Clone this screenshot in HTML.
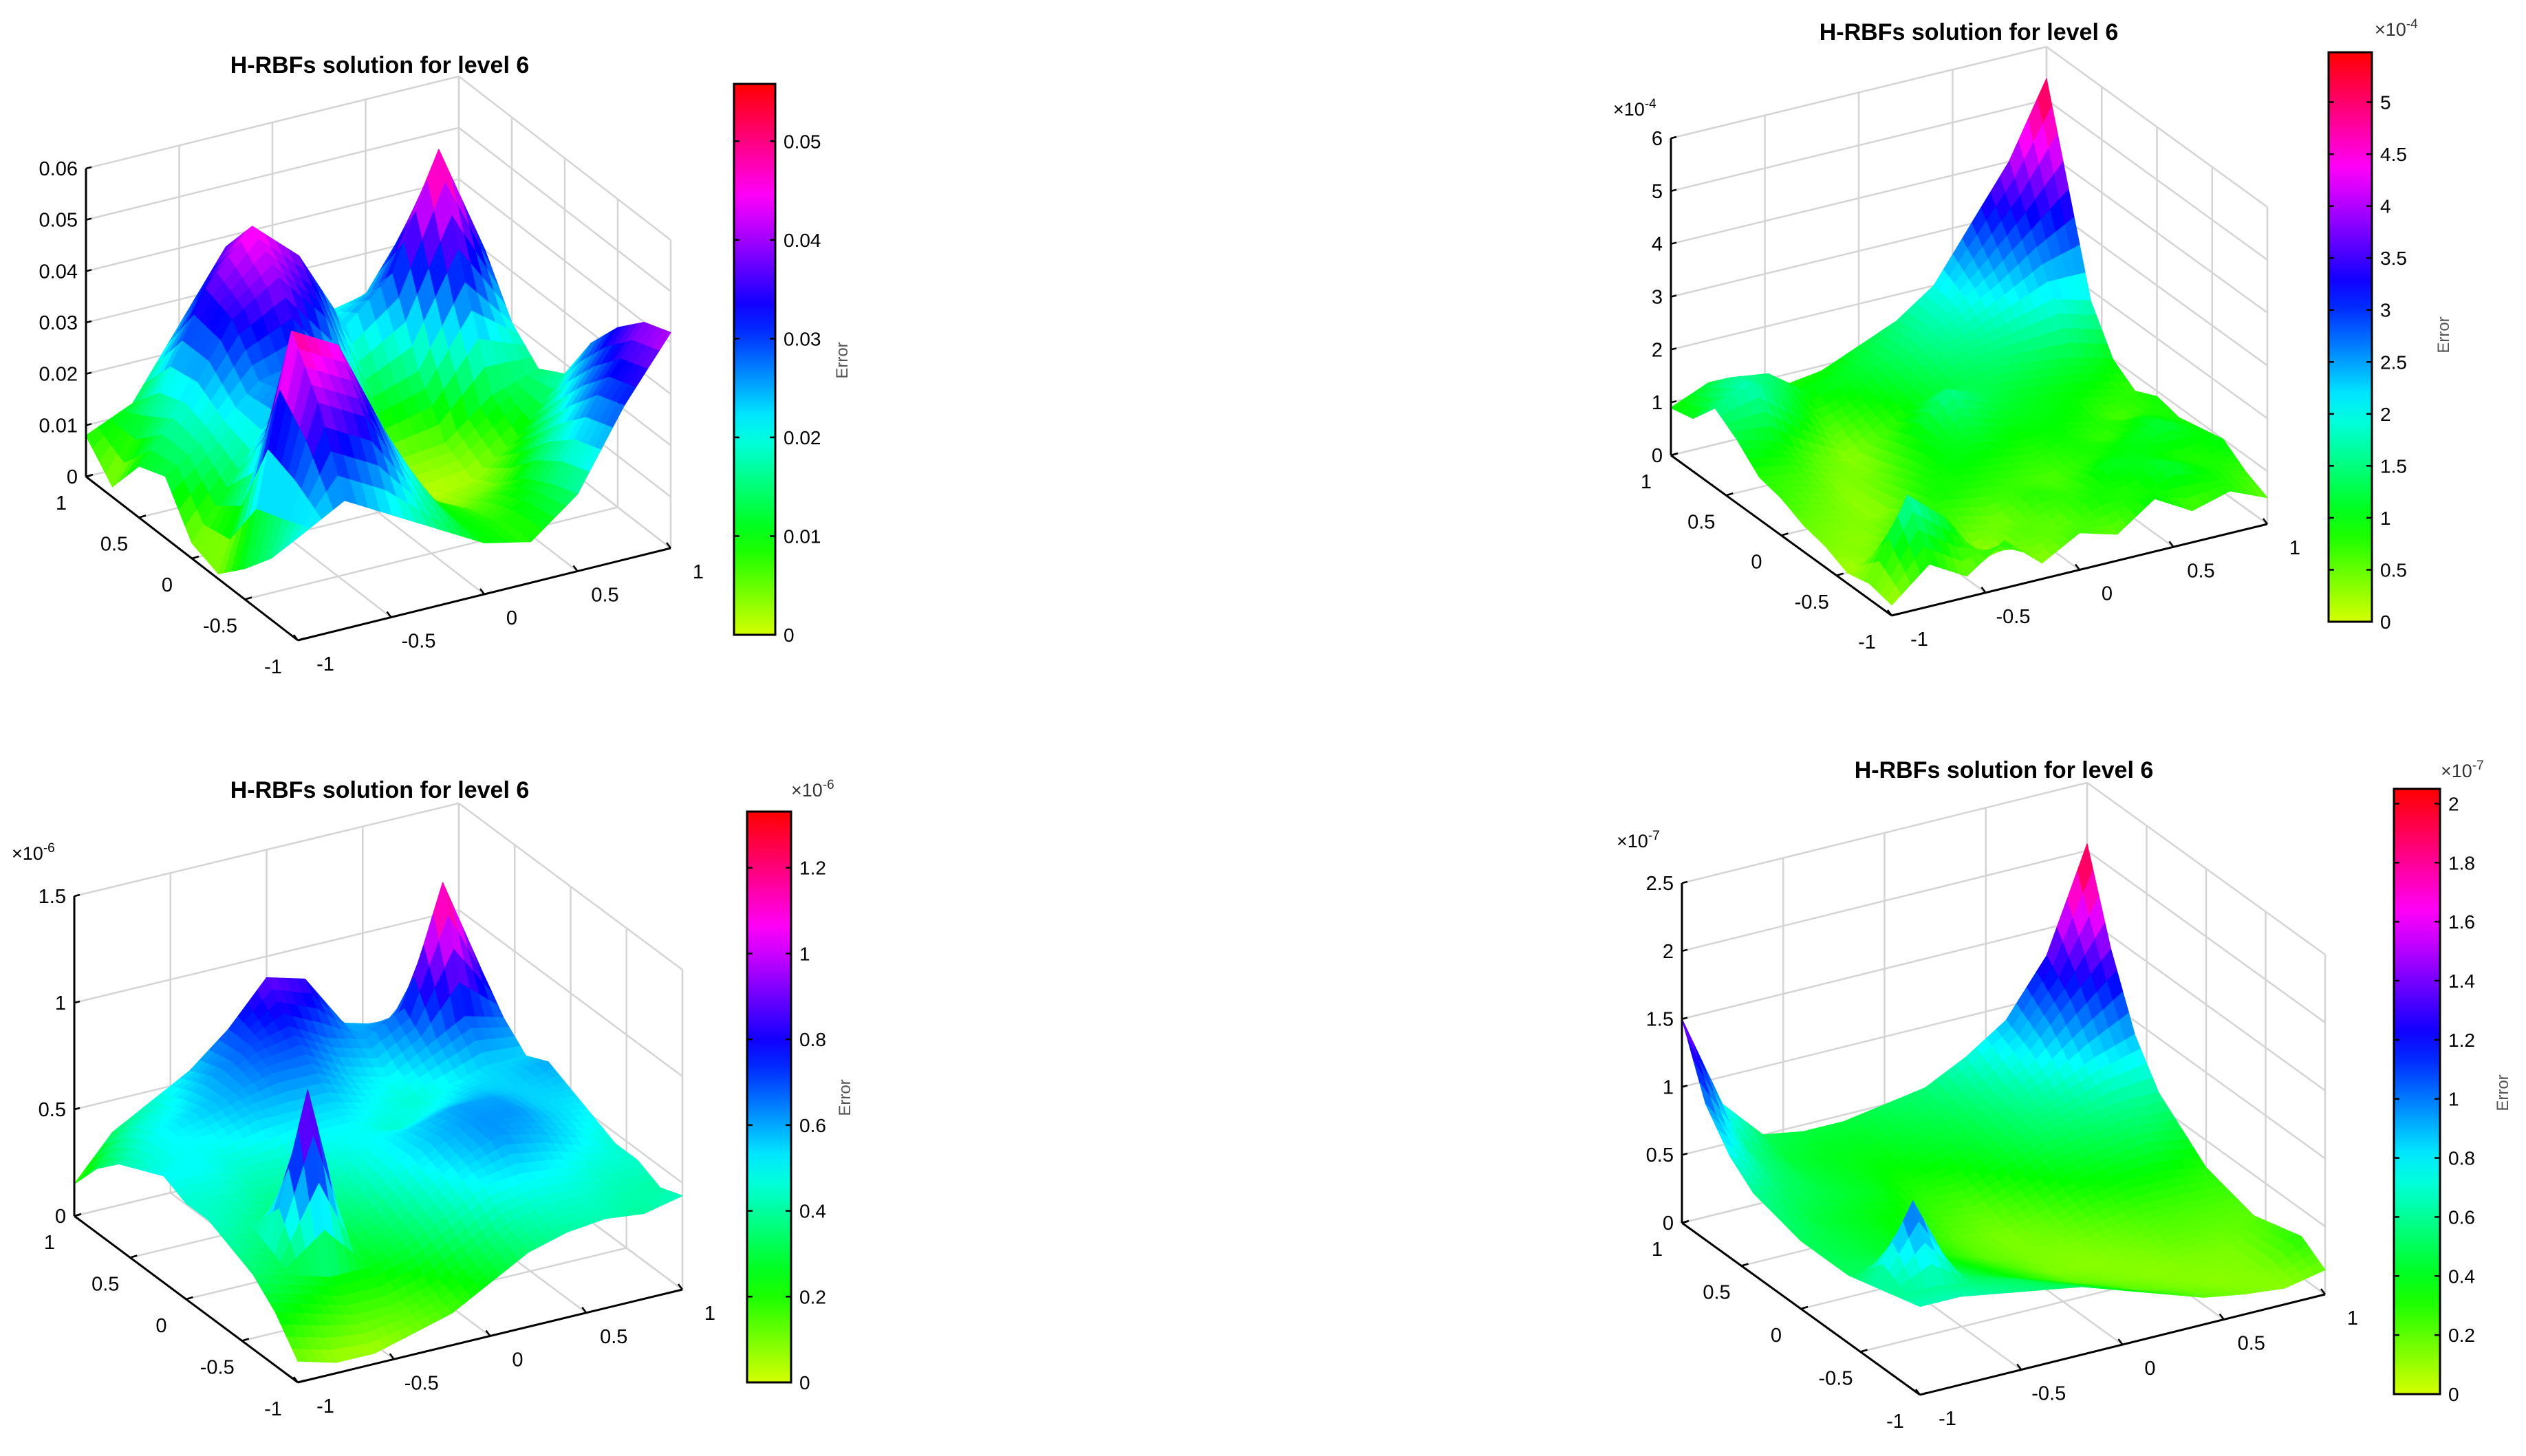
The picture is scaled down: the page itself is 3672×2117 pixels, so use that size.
<!DOCTYPE html>
<html><head><meta charset="utf-8"><style>
html,body{margin:0;padding:0;background:#fff;overflow:hidden;}
svg{display:block;}
text{font-family:"Liberation Sans",sans-serif;}
</style></head>
<body>
<svg id="root" xmlns="http://www.w3.org/2000/svg" width="3672" height="2117" viewBox="0 0 3672 2117"></svg>
<script>
// ---------- DATA ----------
const gridAxis9 = [-1,-0.75,-0.5,-0.25,0,0.25,0.5,0.75,1];
const gridAxis11 = [-1,-0.8,-0.6,-0.4,-0.2,0,0.2,0.4,0.6,0.8,1];
// rows: y from -1 to 1 ; cols: x from -1 to 1
const surf1Z = [
 [0.020,0.025,0.020,0.015,0.010,0.008,0.015,0.030,0.042],
 [0.012,0.040,0.035,0.020,0.010,0.008,0.013,0.028,0.040],
 [0.006,0.050,0.045,0.026,0.010,0.006,0.010,0.022,0.035],
 [0.001,0.025,0.038,0.025,0.008,0.003,0.005,0.015,0.028],
 [0.003,0.015,0.028,0.022,0.008,0.001,0.002,0.008,0.018],
 [0.012,0.018,0.026,0.028,0.015,0.004,0.005,0.012,0.015],
 [0.010,0.020,0.034,0.040,0.030,0.012,0.015,0.030,0.020],
 [0.002,0.018,0.036,0.046,0.038,0.022,0.030,0.052,0.030],
 [0.008,0.012,0.025,0.038,0.032,0.020,0.022,0.035,0.030]
];
const surf2Z = [
 [0.2,0.8,0.4,0.9,0.3,0.7,0.5,1.0,0.6,0.8,0.5],
 [0.3,1.8,1.2,0.2,0.6,0.5,0.9,0.8,1.2,0.9,0.7],
 [0.2,0.5,1.0,0.6,0.4,0.8,0.7,1.1,1.0,0.8,1.0],
 [0.4,0.3,0.6,0.9,0.8,0.7,0.6,0.8,1.0,1.2,0.9],
 [0.5,0.4,0.3,0.8,1.0,0.9,0.8,0.9,0.7,1.0,0.8],
 [0.7,0.5,0.3,0.6,1.0,1.2,1.0,1.0,0.9,0.6,0.9],
 [0.8,0.7,0.4,0.4,0.9,1.6,1.3,1.1,1.0,0.9,0.7],
 [1.2,1.0,0.6,0.3,0.7,1.1,1.3,1.4,1.3,1.2,1.0],
 [1.5,1.8,1.2,0.6,0.9,1.2,1.5,1.6,1.8,2.0,1.8],
 [1.0,1.6,1.5,1.0,1.1,1.3,1.6,1.9,2.4,3.0,3.6],
 [0.9,1.2,1.0,0.8,0.9,1.2,1.5,2.0,3.0,4.0,5.4]
];
const surf3Z = [
 [0.10,0.05,0.05,0.10,0.15,0.25,0.35,0.40,0.42,0.40,0.44],
 [0.25,0.20,0.15,0.15,0.20,0.30,0.40,0.45,0.45,0.42,0.40],
 [0.35,0.30,0.25,0.25,0.30,0.40,0.50,0.52,0.50,0.45,0.45],
 [0.40,0.35,1.05,0.30,0.35,0.45,0.55,0.62,0.58,0.52,0.45],
 [0.45,0.40,0.35,0.35,0.40,0.50,0.58,0.62,0.62,0.55,0.50],
 [0.45,0.45,0.40,0.40,0.45,0.50,0.55,0.60,0.60,0.55,0.55],
 [0.50,0.50,0.45,0.45,0.50,0.50,0.45,0.50,0.55,0.55,0.60],
 [0.45,0.50,0.50,0.55,0.55,0.55,0.50,0.45,0.50,0.55,0.55],
 [0.40,0.50,0.55,0.60,0.65,0.65,0.55,0.50,0.60,0.70,0.65],
 [0.30,0.45,0.50,0.60,0.70,0.75,0.65,0.60,0.70,1.25,0.80],
 [0.15,0.35,0.45,0.55,0.70,0.90,0.85,0.60,0.55,0.60,0.70]
];
const surf4Z = [
 [0.65,0.65,0.60,0.55,0.50,0.40,0.30,0.20,0.15,0.12,0.18],
 [0.60,0.60,0.55,0.50,0.40,0.30,0.20,0.15,0.12,0.15,0.30],
 [0.55,1.10,0.50,0.40,0.30,0.20,0.15,0.12,0.15,0.15,0.25],
 [0.50,0.50,0.45,0.35,0.25,0.15,0.12,0.15,0.20,0.20,0.20],
 [0.50,0.45,0.40,0.30,0.20,0.15,0.15,0.20,0.25,0.25,0.25],
 [0.50,0.45,0.40,0.30,0.20,0.15,0.20,0.30,0.35,0.35,0.30],
 [0.55,0.45,0.40,0.35,0.25,0.20,0.30,0.40,0.45,0.50,0.45],
 [0.60,0.50,0.45,0.40,0.30,0.30,0.40,0.50,0.55,0.60,0.60],
 [0.75,0.55,0.45,0.40,0.35,0.40,0.45,0.55,0.65,0.80,0.90],
 [1.00,0.60,0.45,0.40,0.40,0.45,0.50,0.60,0.80,1.10,1.40],
 [1.50,0.80,0.50,0.45,0.45,0.50,0.55,0.70,0.90,1.30,2.05]
];
const xyTicks = [-1,-0.5,0,0.5,1];
const xyTickLabels = ['-1','-0.5','0','0.5','1'];
const z1Ticks = [0,0.01,0.02,0.03,0.04,0.05,0.06];
const z1Labels = ['0','0.01','0.02','0.03','0.04','0.05','0.06'];
const z2Ticks = [0,1,2,3,4,5,6];
const z2Labels = ['0','1','2','3','4','5','6'];
const z3Ticks = [0,0.5,1,1.5];
const z3Labels = ['0','0.5','1','1.5'];
const z4Ticks = [0,0.5,1,1.5,2,2.5];
const z4Labels = ['0','0.5','1','1.5','2','2.5'];
const cb1Ticks = [0,0.01,0.02,0.03,0.04,0.05];
const cb1Labels = ['0','0.01','0.02','0.03','0.04','0.05'];
const cb2Ticks = [0,0.5,1,1.5,2,2.5,3,3.5,4,4.5,5];
const cb2Labels = ['0','0.5','1','1.5','2','2.5','3','3.5','4','4.5','5'];
const cb3Ticks = [0,0.2,0.4,0.6,0.8,1,1.2];
const cb3Labels = ['0','0.2','0.4','0.6','0.8','1','1.2'];
const cb4Ticks = [0,0.2,0.4,0.6,0.8,1,1.2,1.4,1.6,1.8,2];
const cb4Labels = ['0','0.2','0.4','0.6','0.8','1','1.2','1.4','1.6','1.8','2'];

// ---------- RENDER ----------
const NS = 'http://www.w3.org/2000/svg';
const root = document.getElementById('root');
function mk(tag, attrs, parent){
  const e = document.createElementNS(NS, tag);
  for (const k in attrs) e.setAttribute(k, attrs[k]);
  (parent||root).appendChild(e);
  return e;
}
function hueColor(t){
  t = Math.max(0, Math.min(1, t));
  return 'hsl(' + (70 + 290*t).toFixed(1) + ',100%,50%)';
}
const defs = mk('defs', {});
const grad = mk('linearGradient', {id:'cmap', x1:'0', y1:'1', x2:'0', y2:'0'}, defs);
for (let i=0;i<=20;i++){ mk('stop', {offset:(i/20).toString(), 'stop-color':hueColor(i/20)}, grad); }

function drawPlot(cfg, Z, axisVals, zTicks, zLabels, cbTicks, cbLabels){
  const g = mk('g', {});
  
  
  const P = (x,y,z) => [cfg.cx + x*cfg.ex[0] + y*cfg.ey[0], cfg.cy + x*cfg.ex[1] + y*cfg.ey[1] - z/cfg.zmax*cfg.zpx];
  const line = (a,b,col,w,parent) => mk('line', {x1:a[0],y1:a[1],x2:b[0],y2:b[1],stroke:col,'stroke-width':w}, parent);
  const gg = mk('g', {}, g);
  
  
  const gc = '#d4d4d4', gw = 2.5;
  xyTicks.forEach(t => {
    line(P(t,-1,0), P(t,1,0), gc, gw, gg);
    line(P(-1,t,0), P(1,t,0), gc, gw, gg);
    line(P(t,1,0), P(t,1,cfg.zmax), gc, gw, gg);
    line(P(1,t,0), P(1,t,cfg.zmax), gc, gw, gg);
  });
  zTicks.forEach(z => {
    line(P(-1,1,z), P(1,1,z), gc, gw, gg);
    line(P(1,-1,z), P(1,1,z), gc, gw, gg);
  });
  const sg = mk('g', {}, g);
  
  
  const n = axisVals.length, S = 4, quads = [];
  const zAt = (j,i,u,v) => (1-u)*(1-v)*Z[j][i] + u*(1-v)*Z[j][i+1] + (1-u)*v*Z[j+1][i] + u*v*Z[j+1][i+1];
  for (let j=0;j<n-1;j++) for (let i=0;i<n-1;i++){
    const x0=axisVals[i], x1=axisVals[i+1], y0=axisVals[j], y1=axisVals[j+1];
    for (let b=0;b<S;b++) for (let a=0;a<S;a++){
      const u0=a/S,u1=(a+1)/S,v0=b/S,v1=(b+1)/S;
      const pts=[[u0,v0],[u1,v0],[u1,v1],[u0,v1]].map(([u,v]) => {
        const z=zAt(j,i,u,v);
        return {p:P(x0+(x1-x0)*u, y0+(y1-y0)*v, z), z:z};
      });
      const zc = pts.reduce((s,q)=>s+q.z,0)/4;
      const gx=(x0+(x1-x0)*(u0+u1)/2), gy=(y0+(y1-y0)*(v0+v1)/2);
      const depth = P(gx,gy,0)[1];
      quads.push({pts, zc, depth});
    }
  }
  quads.sort((a,b)=>a.depth-b.depth);
  quads.forEach(q => {
    const c = hueColor(q.zc/cfg.cmax);
    const poly = mk('polygon', {points:q.pts.map(o=>o.p[0].toFixed(1)+','+o.p[1].toFixed(1)).join(' '), fill:c, stroke:c, 'stroke-width':1.2, 'stroke-linejoin':'round'}, sg);
    
    
  });
  const ag = mk('g', {}, g);
  
  
  line(P(-1,1,0), P(-1,1,cfg.zmax), '#000', 3, ag);
  line(P(-1,1,0), P(-1,-1,0), '#000', 3, ag);
  line(P(-1,-1,0), P(1,-1,0), '#000', 3, ag);
  zTicks.forEach((z,k) => {
    const p = P(-1,1,z);
    line(p, [p[0]+8, p[1]-2], '#000', 2.5, ag);
    const t = mk('text', {x:p[0]-12, y:p[1]+10, 'text-anchor':'end', 'font-size':29, fill:'#000'}, ag);
    t.textContent = zLabels[k];
    
    
  });
  xyTicks.forEach((v,k) => {
    const py = P(-1,v,0);
    line(py, [py[0]+10, py[1]-3], '#000', 2.5, ag);
    const ty = mk('text', {x:py[0]-36, y:py[1]+48, 'text-anchor':'middle', 'font-size':29, fill:'#000'}, ag);
    ty.textContent = xyTickLabels[k];
    
    
    const px = P(v,-1,0);
    line(px, [px[0]-6, px[1]-8], '#000', 2.5, ag);
    const tx = mk('text', {x:px[0]+40, y:px[1]+44, 'text-anchor':'middle', 'font-size':29, fill:'#000'}, ag);
    tx.textContent = xyTickLabels[k];
    
    
  });
  if (cfg.zexp){
    const te = mk('text', {x:cfg.zexp[0], y:cfg.zexp[1], 'font-size':27, fill:'#000'}, ag);
    te.innerHTML = '\u00d710<tspan dy="-11" font-size="19">' + cfg.exp + '</tspan>';
    
    
  }
  const tt = mk('text', {x:cfg.title[0], y:cfg.title[1], 'text-anchor':'middle', 'font-size':34, 'font-weight':'bold', fill:'#000'}, g);
  tt.textContent = 'H-RBFs solution for level 6';
  
  
  const cb = mk('g', {}, g);
  
  
  const [bx0,by0,bx1,by1] = cfg.cb;
  const r = mk('rect', {x:bx0, y:by0, width:bx1-bx0, height:by1-by0, fill:'url(#cmap)', stroke:'#000', 'stroke-width':3}, cb);
  
  
  cbTicks.forEach((v,k) => {
    const yy = by1 - v/cfg.cmax*(by1-by0);
    line([bx1-8,yy],[bx1,yy],'#000',2.5,cb);
    line([bx0,yy],[bx0+8,yy],'#000',2.5,cb);
    const t = mk('text', {x:bx1+12, y:yy+10, 'font-size':28, fill:'#000'}, cb);
    t.textContent = cbLabels[k];
    
    
  });
  if (cfg.cbexp){
    const te = mk('text', {x:cfg.cbexp[0], y:cfg.cbexp[1], 'font-size':27, fill:'#333'}, cb);
    te.innerHTML = '\u00d710<tspan dy="-11" font-size="19">' + cfg.exp + '</tspan>';
    
    
  }
  const el = mk('text', {x:cfg.errLbl[0], y:cfg.errLbl[1], 'font-size':24, fill:'#555', 'text-anchor':'middle', transform:'rotate(-90 '+cfg.errLbl[0]+' '+cfg.errLbl[1]+')'}, cb);
  el.textContent = 'Error';
  
  
}

drawPlot({name:'plot-top-left', cx:550, cy:745, ex:[271,-67], ey:[-154,-119], zmax:0.06, zpx:448, cmax:0.0558,
  title:[552,106], cb:[1067,122,1127,923], errLbl:[1232,524]}, surf1Z, gridAxis9, z1Ticks, z1Labels, cb1Ticks, cb1Labels);
drawPlot({name:'plot-top-right', cx:2862.5, cy:712, ex:[273,-66.5], ey:[-160.5,-116.5], zmax:6, zpx:461, cmax:5.48,
  title:[2862,58], cb:[3385,76,3448,904], errLbl:[3560,487], exp:'-4', zexp:[2345,168], cbexp:[3452,52]}, surf2Z, gridAxis11, z2Ticks, z2Labels, cb2Ticks, cb2Labels);
drawPlot({name:'plot-bottom-left', cx:550, cy:1821.5, ex:[279.5,-67.5], ey:[-162.5,-121], zmax:1.5, zpx:465, cmax:1.331,
  title:[552,1160], cb:[1086,1180,1150,2010], errLbl:[1236,1596], exp:'-6', zexp:[17,1250], cbexp:[1150,1158]}, surf3Z, gridAxis11, z3Ticks, z3Labels, cb3Ticks, cb3Labels);
drawPlot({name:'plot-bottom-right', cx:2912.5, cy:1830, ex:[294.5,-73], ey:[-173,-125], zmax:2.5, zpx:494, cmax:2.05,
  title:[2913,1131], cb:[3480,1147,3547,2027], errLbl:[3646,1589], exp:'-7', zexp:[2350,1232], cbexp:[3548,1130]}, surf4Z, gridAxis11, z4Ticks, z4Labels, cb4Ticks, cb4Labels);
</script>
</body></html>
